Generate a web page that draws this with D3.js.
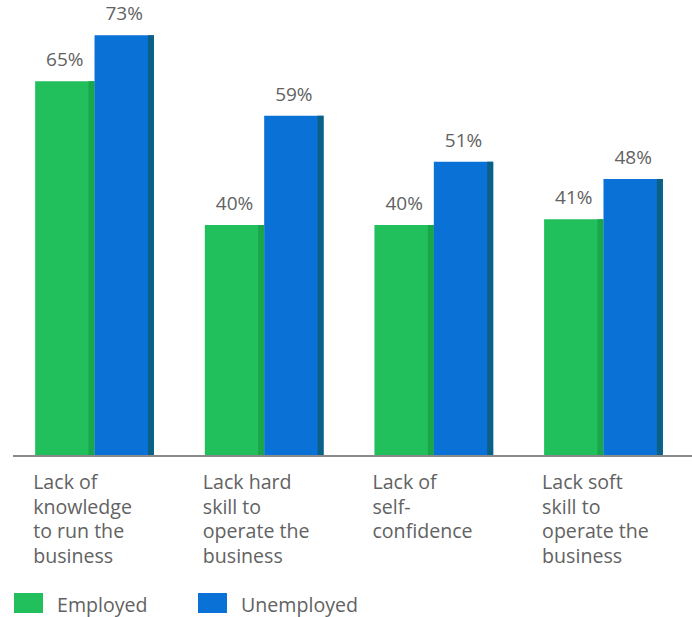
<!DOCTYPE html>
<html>
<head>
<meta charset="utf-8">
<script src="https://cdn.jsdelivr.net/npm/d3@7"></script>
<style>
  html, body { margin: 0; padding: 0; background: #fff; }
  svg { display: block; }
  text { font-family: "Open Sans", "Noto Sans", sans-serif; fill: #626262; }
</style>
</head>
<body>
<svg id="chart" width="692" height="617"></svg>
<script>
// Reasons cited as barriers to starting a business
const categories = [
  ["Lack of", "knowledge", "to run the", "business"],
  ["Lack hard", "skill to", "operate the", "business"],
  ["Lack of", "self-", "confidence"],
  ["Lack soft", "skill to", "operate the", "business"]
];
const seriesNames = ["Employed", "Unemployed"];
const employed = [65, 40, 40, 41];
const unemployed = [73, 59, 51, 48];

const colors = { Employed: "#22c05c", Unemployed: "#0a72d7" };
const sideColors = { Employed: "#1aa64a", Unemployed: "#0b6085" };

const svg = d3.select("#chart");
const baseY = 455;

const keys = categories.map((c, i) => "c" + i);
const x = d3.scaleBand().domain(keys).range([8, 690]).paddingInner(0.3).paddingOuter(0.16);
const xs = d3.scaleBand().domain(seriesNames).range([0, x.bandwidth()]);
const y = d3.scaleLinear().domain([0, 78]).range([baseY, 6.5]);

const rows = keys.map((k, i) => ({ key: k, lines: categories[i], values: [
  { name: "Employed", v: employed[i] },
  { name: "Unemployed", v: unemployed[i] }
]}));

const groups = svg.selectAll("g.grp").data(rows).join("g")
  .attr("class", "grp")
  .attr("transform", d => `translate(${x(d.key)},0)`);

const bars = groups.selectAll("g.bar").data(d => d.values).join("g").attr("class", "bar");

bars.append("rect")
  .attr("x", d => xs(d.name))
  .attr("y", d => y(d.v))
  .attr("width", xs.bandwidth())
  .attr("height", d => baseY - y(d.v))
  .attr("fill", d => colors[d.name]);

// darker right-hand side face
bars.append("rect")
  .attr("x", d => xs(d.name) + xs.bandwidth() - 6)
  .attr("y", d => y(d.v))
  .attr("width", 6)
  .attr("height", d => baseY - y(d.v))
  .attr("fill", d => sideColors[d.name]);

bars.append("text")
  .attr("x", d => xs(d.name) + xs.bandwidth() / 2)
  .attr("y", d => y(d.v) - 15)
  .attr("text-anchor", "middle")
  .attr("font-size", 19)
  .text(d => d.v + "%");

// baseline
svg.append("line")
  .attr("x1", 13).attr("x2", 692)
  .attr("y1", baseY + 1).attr("y2", baseY + 1)
  .attr("stroke", "#8a8a8a").attr("stroke-width", 2);

// category labels
groups.append("text")
  .attr("font-size", 19.6)
  .selectAll("tspan").data(d => d.lines).join("tspan")
  .attr("x", -2)
  .attr("y", (d, i) => 489 + i * 24.7)
  .text(d => d);

// legend
const legendX = [14, 198];
const legend = svg.selectAll("g.legend").data(seriesNames).join("g")
  .attr("class", "legend")
  .attr("transform", (d, i) => `translate(${legendX[i]},593)`);
legend.append("rect").attr("width", 29).attr("height", 20).attr("fill", d => colors[d]);
legend.append("text").attr("x", 43).attr("y", 19).attr("font-size", 19.6).text(d => d);
</script>
</body>
</html>
